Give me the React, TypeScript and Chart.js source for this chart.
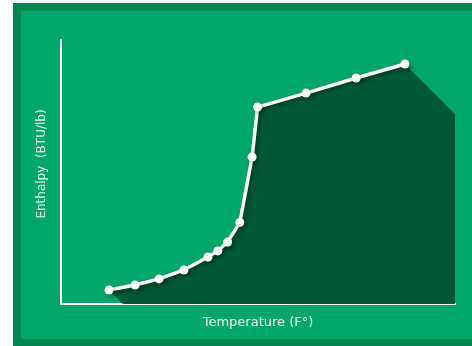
import React, { useEffect, useRef } from "react";
import { Chart, registerables } from "chart.js";

Chart.register(...registerables);

// Temperature (arbitrary units)
const temperature = [12.2, 18.8, 24.9, 31.2, 37.3, 39.8, 42.3, 45.4, 48.5, 49.9, 62.2, 74.9, 87.3];
// Enthalpy (arbitrary units)
const enthalpy = [5.3, 7.2, 9.5, 12.9, 17.8, 20.1, 23.5, 30.9, 55.7, 74.6, 79.9, 85.6, 90.9];

const xTitle = "Temperature (F°)";
const yTitle = "Enthalpy  (BTU/lb)";

const BORDER_GREEN = "rgb(0,134,80)";
const PANEL_GREEN = "rgb(0,166,106)";
const SHADOW_GREEN = "rgb(0,88,52)";
const TEXT = "rgba(255,255,255,0.92)";
const FONT = "'DejaVu Sans', Verdana, sans-serif";

const longShadow = {
  id: "longShadow",
  beforeDatasetsDraw(chart: any) {
    const meta = chart.getDatasetMeta(0);
    const pts = meta.data;
    if (!pts || !pts.length) return;
    const { left, right, top, bottom } = chart.chartArea;
    const ctx = chart.ctx;
    const first = pts[0];
    const last = pts[pts.length - 1];
    ctx.save();
    ctx.beginPath();
    ctx.rect(left, top, right - left, bottom - top);
    ctx.clip();
    ctx.beginPath();
    ctx.moveTo(first.x, first.y);
    for (let i = 1; i < pts.length; i++) ctx.lineTo(pts[i].x, pts[i].y);
    ctx.lineTo(right, last.y + (right - last.x));
    ctx.lineTo(right, bottom);
    ctx.lineTo(first.x + (bottom - first.y), bottom);
    ctx.closePath();
    ctx.fillStyle = SHADOW_GREEN;
    ctx.fill();
    ctx.restore();
  },
  beforeDatasetDraw(chart: any) {
    const ctx = chart.ctx;
    ctx.save();
    ctx.shadowColor = "rgba(0,0,0,0.35)";
    ctx.shadowBlur = 4;
    ctx.shadowOffsetX = 2;
    ctx.shadowOffsetY = 2;
  },
  afterDatasetDraw(chart: any) {
    chart.ctx.restore();
  },
};

// y-axis title, placed a little above the chart-area centre as in the reference
const yTitlePlugin = {
  id: "yTitlePlugin",
  afterDraw(chart: any) {
    const ctx = chart.ctx;
    const { left, top, bottom } = chart.chartArea;
    ctx.save();
    ctx.translate(left - 19, (top + bottom) / 2 - 8);
    ctx.rotate(-Math.PI / 2);
    ctx.font = `12px ${FONT}`;
    ctx.fillStyle = TEXT;
    ctx.textAlign = "center";
    ctx.textBaseline = "middle";
    ctx.fillText(yTitle, 0, 0);
    ctx.restore();
  },
};

export default function App() {
  const ref = useRef<HTMLCanvasElement | null>(null);

  useEffect(() => {
    if (!ref.current) return;
    const data = temperature.map((t, i) => ({ x: t, y: enthalpy[i] }));
    const chart = new Chart(ref.current, {
      type: "line",
      data: {
        datasets: [
          {
            data,
            borderColor: "#ffffff",
            borderWidth: 3.5,
            pointRadius: 4.5,
            pointBackgroundColor: "#ffffff",
            pointBorderWidth: 0,
            fill: false,
            tension: 0,
          },
        ],
      },
      options: {
        animation: false,
        responsive: false,
        devicePixelRatio: 1,
        layout: { padding: { left: 61, right: 17, top: 40, bottom: 0 } },
        plugins: { legend: { display: false }, tooltip: { enabled: false } },
        scales: {
          x: {
            type: "linear",
            min: 0,
            max: 100,
            grid: { display: false, drawTicks: false },
            ticks: { display: false },
            border: { display: true, color: "#ffffff", width: 2 },
            title: {
              display: true,
              text: xTitle,
              color: TEXT,
              font: { family: FONT, size: 13 },
              padding: { top: 11.2, bottom: 15.2 },
            },
          },
          y: {
            type: "linear",
            min: 0,
            max: 100,
            grid: { display: false, drawTicks: false },
            ticks: { display: false },
            border: { display: true, color: "#ffffff", width: 2 },
            title: { display: false },
          },
        },
      },
      plugins: [longShadow, yTitlePlugin],
    });
    return () => chart.destroy();
  }, []);

  return (
    <div style={{ position: "absolute", left: 0, top: 0, width: 472, height: 346, background: "#ffffff", overflow: "hidden" }}>
      <div style={{ position: "absolute", left: 13, top: 3, width: 472, height: 346, background: BORDER_GREEN }} />
      <div style={{ position: "absolute", left: 21, top: 11, width: 472, height: 328, background: PANEL_GREEN }} />
      <canvas ref={ref} width={472} height={346} style={{ position: "absolute", left: 0, top: 0, width: 472, height: 346 }} />
    </div>
  );
}
